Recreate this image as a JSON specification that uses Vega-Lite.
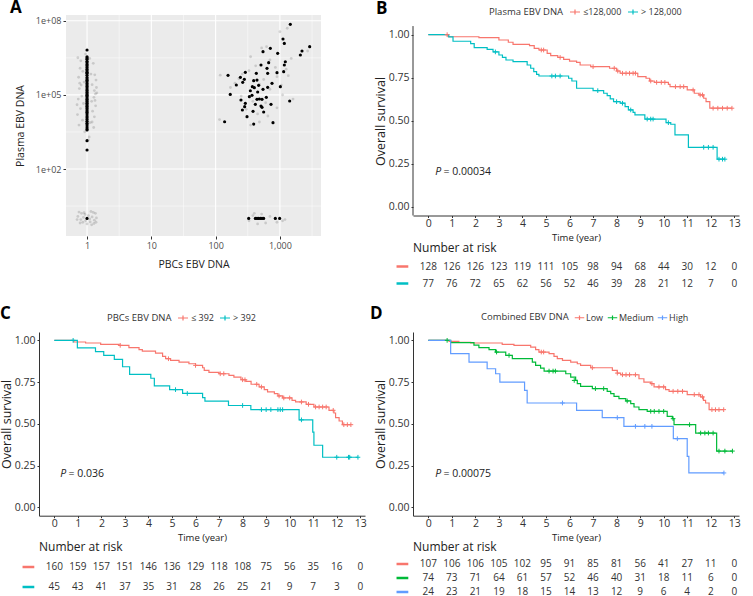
{
  "$schema": "https://vega.github.io/schema/vega-lite/v6.json",
  "background": "white",
  "padding": {"left": 0, "top": -2, "right": 0, "bottom": 0},
  "config": {
    "view": {"stroke": null},
    "font": "Open Sans",
    "axis": {"labelFontSize": 10.5, "labelColor": "#333", "titleColor": "#222", "titleFontWeight": "normal", "domainColor": "#333", "tickColor": "#333", "grid": false, "tickSize": 3, "labelPadding": 2, "labelOverlap": false},
    "axisX": {"labelOverlap": false},
    "axisQuantitative": {"labelOverlap": false},
    "legend": {"labelFontSize": 9, "titleFontSize": 9.5, "titleFontWeight": "normal", "labelColor": "#333", "titleColor": "#333"},
    "title": {"fontSize": 17, "fontWeight": "bold", "anchor": "start", "frame": "group", "color": "#000"}
  },
  "data": {"values": []},
  "datasets": {
    "scatter": [
      {"pbc": 1, "plasma": 6600000, "k": "o"}, {"pbc": 1, "plasma": 3500000, "k": "o"}, {"pbc": 1, "plasma": 3100000, "k": "o"},
      {"pbc": 1, "plasma": 2800000, "k": "o"}, {"pbc": 1, "plasma": 2300000, "k": "o"}, {"pbc": 1, "plasma": 2000000, "k": "o"},
      {"pbc": 1, "plasma": 1700000, "k": "o"}, {"pbc": 1, "plasma": 1500000, "k": "o"}, {"pbc": 1, "plasma": 1300000, "k": "o"},
      {"pbc": 1, "plasma": 1100000, "k": "o"}, {"pbc": 1, "plasma": 950000, "k": "o"}, {"pbc": 1, "plasma": 820000, "k": "o"},
      {"pbc": 1, "plasma": 760000, "k": "o"}, {"pbc": 1, "plasma": 630000, "k": "o"}, {"pbc": 1, "plasma": 510000, "k": "o"},
      {"pbc": 1, "plasma": 440000, "k": "o"}, {"pbc": 1, "plasma": 390000, "k": "o"}, {"pbc": 1, "plasma": 340000, "k": "o"},
      {"pbc": 1, "plasma": 290000, "k": "o"}, {"pbc": 1, "plasma": 250000, "k": "o"}, {"pbc": 1, "plasma": 220000, "k": "o"},
      {"pbc": 1, "plasma": 190000, "k": "o"}, {"pbc": 1, "plasma": 160000, "k": "o"}, {"pbc": 1, "plasma": 145000, "k": "o"},
      {"pbc": 1, "plasma": 125000, "k": "o"}, {"pbc": 1, "plasma": 110000, "k": "o"}, {"pbc": 1, "plasma": 98000, "k": "o"},
      {"pbc": 1, "plasma": 87000, "k": "o"}, {"pbc": 1, "plasma": 75000, "k": "o"}, {"pbc": 1, "plasma": 66000, "k": "o"},
      {"pbc": 1, "plasma": 58000, "k": "o"}, {"pbc": 1, "plasma": 52000, "k": "o"}, {"pbc": 1, "plasma": 46000, "k": "o"},
      {"pbc": 1, "plasma": 40000, "k": "o"}, {"pbc": 1, "plasma": 35000, "k": "o"}, {"pbc": 1, "plasma": 30000, "k": "o"},
      {"pbc": 1, "plasma": 27000, "k": "o"}, {"pbc": 1, "plasma": 23000, "k": "o"}, {"pbc": 1, "plasma": 20000, "k": "o"},
      {"pbc": 1, "plasma": 17000, "k": "o"}, {"pbc": 1, "plasma": 14000, "k": "o"}, {"pbc": 1, "plasma": 12000, "k": "o"},
      {"pbc": 1, "plasma": 10000, "k": "o"}, {"pbc": 1, "plasma": 8600, "k": "o"}, {"pbc": 1, "plasma": 7200, "k": "o"},
      {"pbc": 1, "plasma": 6100, "k": "o"}, {"pbc": 1, "plasma": 5000, "k": "o"}, {"pbc": 1, "plasma": 4200, "k": "o"},
      {"pbc": 1, "plasma": 3800, "k": "o"}, {"pbc": 1, "plasma": 1400, "k": "o"}, {"pbc": 1, "plasma": 590, "k": "o"},
      {"pbc": 1, "plasma": 1, "k": "o"},
      {"pbc": 1452, "plasma": 72000000, "k": "o"}, {"pbc": 1117, "plasma": 18300000, "k": "o"}, {"pbc": 1172, "plasma": 12200000, "k": "o"},
      {"pbc": 2904, "plasma": 8970000, "k": "o"}, {"pbc": 2207, "plasma": 5980000, "k": "o"}, {"pbc": 2080, "plasma": 4120000, "k": "o"},
      {"pbc": 710, "plasma": 7670000, "k": "o"}, {"pbc": 546, "plasma": 5620000, "k": "o"}, {"pbc": 923, "plasma": 4820000, "k": "o"},
      {"pbc": 1214, "plasma": 2210000, "k": "o"}, {"pbc": 1172, "plasma": 1630000, "k": "o"}, {"pbc": 669, "plasma": 2020000, "k": "o"},
      {"pbc": 508, "plasma": 1630000, "k": "o"}, {"pbc": 630, "plasma": 1190000, "k": "o"}, {"pbc": 290, "plasma": 820000, "k": "o"},
      {"pbc": 156, "plasma": 620000, "k": "o"}, {"pbc": 243, "plasma": 514000, "k": "o"}, {"pbc": 280, "plasma": 427000, "k": "o"},
      {"pbc": 264, "plasma": 323000, "k": "o"}, {"pbc": 210, "plasma": 252000, "k": "o"}, {"pbc": 430, "plasma": 746000, "k": "o"},
      {"pbc": 391, "plasma": 377000, "k": "o"}, {"pbc": 440, "plasma": 400000, "k": "o"}, {"pbc": 645, "plasma": 746000, "k": "o"},
      {"pbc": 901, "plasma": 794000, "k": "o"}, {"pbc": 1145, "plasma": 873000, "k": "o"}, {"pbc": 754, "plasma": 294000, "k": "o"},
      {"pbc": 1016, "plasma": 215000, "k": "o"}, {"pbc": 373, "plasma": 215000, "k": "o"}, {"pbc": 400, "plasma": 196000, "k": "o"},
      {"pbc": 467, "plasma": 244000, "k": "o"}, {"pbc": 546, "plasma": 168000, "k": "o"}, {"pbc": 451, "plasma": 131000, "k": "o"},
      {"pbc": 335, "plasma": 85000, "k": "o"}, {"pbc": 368, "plasma": 96000, "k": "o"}, {"pbc": 615, "plasma": 79700, "k": "o"},
      {"pbc": 479, "plasma": 68200, "k": "o"}, {"pbc": 248, "plasma": 62200, "k": "o"}, {"pbc": 440, "plasma": 66000, "k": "o"},
      {"pbc": 527, "plasma": 66000, "k": "o"}, {"pbc": 169, "plasma": 105000, "k": "o"}, {"pbc": 1419, "plasma": 56600, "k": "o"},
      {"pbc": 290, "plasma": 45600, "k": "o"}, {"pbc": 415, "plasma": 41500, "k": "o"}, {"pbc": 727, "plasma": 41500, "k": "o"},
      {"pbc": 283, "plasma": 33400, "k": "o"}, {"pbc": 261, "plasma": 24500, "k": "o"}, {"pbc": 508, "plasma": 35600, "k": "o"},
      {"pbc": 527, "plasma": 31400, "k": "o"}, {"pbc": 382, "plasma": 21600, "k": "o"}, {"pbc": 559, "plasma": 20300, "k": "o"},
      {"pbc": 308, "plasma": 13200, "k": "o"}, {"pbc": 138, "plasma": 8200, "k": "o"}, {"pbc": 391, "plasma": 6600, "k": "o"},
      {"pbc": 781, "plasma": 7500, "k": "o"}, {"pbc": 347, "plasma": 148000, "k": "o"}, {"pbc": 645, "plasma": 202000, "k": "o"},
      {"pbc": 327, "plasma": 1, "k": "o"}, {"pbc": 415, "plasma": 1, "k": "o"}, {"pbc": 440, "plasma": 1, "k": "o"},
      {"pbc": 467, "plasma": 1, "k": "o"}, {"pbc": 497, "plasma": 1, "k": "o"}, {"pbc": 527, "plasma": 1, "k": "o"},
      {"pbc": 559, "plasma": 1, "k": "o"}, {"pbc": 849, "plasma": 1, "k": "o"}, {"pbc": 991, "plasma": 1, "k": "o"},
      {"pbc": 0.72, "plasma": 3200000, "k": "j"}, {"pbc": 0.8, "plasma": 2400000, "k": "j"}, {"pbc": 1.25, "plasma": 1900000, "k": "j"},
      {"pbc": 1.32, "plasma": 650000, "k": "j"}, {"pbc": 0.78, "plasma": 1200000, "k": "j"}, {"pbc": 0.86, "plasma": 900000, "k": "j"},
      {"pbc": 1.15, "plasma": 700000, "k": "j"}, {"pbc": 0.74, "plasma": 520000, "k": "j"}, {"pbc": 1.38, "plasma": 400000, "k": "j"},
      {"pbc": 0.9, "plasma": 330000, "k": "j"}, {"pbc": 1.2, "plasma": 260000, "k": "j"}, {"pbc": 0.76, "plasma": 180000, "k": "j"},
      {"pbc": 1.3, "plasma": 150000, "k": "j"}, {"pbc": 1.42, "plasma": 120000, "k": "j"}, {"pbc": 1.35, "plasma": 110000, "k": "j"},
      {"pbc": 0.83, "plasma": 90000, "k": "j"}, {"pbc": 1.28, "plasma": 80000, "k": "j"}, {"pbc": 0.73, "plasma": 68000, "k": "j"},
      {"pbc": 1.18, "plasma": 55000, "k": "j"}, {"pbc": 0.88, "plasma": 45000, "k": "j"}, {"pbc": 1.36, "plasma": 36000, "k": "j"},
      {"pbc": 0.79, "plasma": 28000, "k": "j"}, {"pbc": 1.22, "plasma": 22000, "k": "j"}, {"pbc": 0.71, "plasma": 16000, "k": "j"},
      {"pbc": 1.3, "plasma": 13000, "k": "j"}, {"pbc": 0.85, "plasma": 9500, "k": "j"}, {"pbc": 1.12, "plasma": 7500, "k": "j"},
      {"pbc": 0.75, "plasma": 6000, "k": "j"}, {"pbc": 1.27, "plasma": 4800, "k": "j"}, {"pbc": 0.92, "plasma": 3200, "k": "j"},
      {"pbc": 1.08, "plasma": 2000, "k": "j"}, {"pbc": 1.2, "plasma": 8000, "k": "j"}, {"pbc": 0.7, "plasma": 40000, "k": "j"},
      {"pbc": 1.4, "plasma": 200000, "k": "j"}, {"pbc": 0.81, "plasma": 250000, "k": "j"}, {"pbc": 1.1, "plasma": 3000000, "k": "j"},
      {"pbc": 0.95, "plasma": 4500000, "k": "j"}, {"pbc": 1.05, "plasma": 1500, "k": "j"}, {"pbc": 0.77, "plasma": 300000, "k": "j"},
      {"pbc": 1.33, "plasma": 60000, "k": "j"},
      {"pbc": 0.75, "plasma": 1.8, "k": "j"}, {"pbc": 0.82, "plasma": 1.6, "k": "j"}, {"pbc": 0.9, "plasma": 1.7, "k": "j"},
      {"pbc": 1.15, "plasma": 1.9, "k": "j"}, {"pbc": 1.25, "plasma": 1.75, "k": "j"}, {"pbc": 1.35, "plasma": 1.6, "k": "j"},
      {"pbc": 0.72, "plasma": 1.2, "k": "j"}, {"pbc": 0.8, "plasma": 0.9, "k": "j"}, {"pbc": 0.88, "plasma": 1.1, "k": "j"},
      {"pbc": 0.95, "plasma": 0.8, "k": "j"}, {"pbc": 1.05, "plasma": 1.3, "k": "j"}, {"pbc": 1.1, "plasma": 0.95, "k": "j"},
      {"pbc": 1.2, "plasma": 1.15, "k": "j"}, {"pbc": 1.3, "plasma": 0.85, "k": "j"}, {"pbc": 1.4, "plasma": 1.05, "k": "j"},
      {"pbc": 0.78, "plasma": 0.65, "k": "j"}, {"pbc": 0.86, "plasma": 0.7, "k": "j"}, {"pbc": 1.0, "plasma": 0.6, "k": "j"},
      {"pbc": 1.12, "plasma": 0.72, "k": "j"}, {"pbc": 1.28, "plasma": 0.62, "k": "j"}, {"pbc": 1.38, "plasma": 0.7, "k": "j"},
      {"pbc": 0.93, "plasma": 1.45, "k": "j"}, {"pbc": 1.18, "plasma": 0.55, "k": "j"}, {"pbc": 0.7, "plasma": 0.9, "k": "j"},
      {"pbc": 118, "plasma": 630000, "k": "j"}, {"pbc": 115, "plasma": 10000, "k": "j"}, {"pbc": 1000, "plasma": 36000000, "k": "j"},
      {"pbc": 1300, "plasma": 50000000, "k": "j"}, {"pbc": 620, "plasma": 9000000, "k": "j"}, {"pbc": 520, "plasma": 8000000, "k": "j"},
      {"pbc": 350, "plasma": 3500000, "k": "j"}, {"pbc": 700, "plasma": 2600000, "k": "j"}, {"pbc": 1500, "plasma": 3000000, "k": "j"},
      {"pbc": 2700, "plasma": 6000000, "k": "j"}, {"pbc": 1250, "plasma": 1100000, "k": "j"}, {"pbc": 420, "plasma": 1500000, "k": "j"},
      {"pbc": 260, "plasma": 700000, "k": "j"}, {"pbc": 330, "plasma": 950000, "k": "j"}, {"pbc": 900, "plasma": 550000, "k": "j"},
      {"pbc": 1350, "plasma": 600000, "k": "j"}, {"pbc": 560, "plasma": 420000, "k": "j"}, {"pbc": 200, "plasma": 300000, "k": "j"},
      {"pbc": 170, "plasma": 200000, "k": "j"}, {"pbc": 480, "plasma": 270000, "k": "j"}, {"pbc": 700, "plasma": 170000, "k": "j"},
      {"pbc": 1100, "plasma": 100000, "k": "j"}, {"pbc": 1600, "plasma": 68000, "k": "j"}, {"pbc": 250, "plasma": 90000, "k": "j"},
      {"pbc": 380, "plasma": 55000, "k": "j"}, {"pbc": 600, "plasma": 48000, "k": "j"}, {"pbc": 900, "plasma": 30000, "k": "j"},
      {"pbc": 300, "plasma": 26000, "k": "j"}, {"pbc": 450, "plasma": 17000, "k": "j"}, {"pbc": 650, "plasma": 14000, "k": "j"},
      {"pbc": 350, "plasma": 6000, "k": "j"}, {"pbc": 480, "plasma": 8000, "k": "j"}, {"pbc": 1050, "plasma": 250000, "k": "j"},
      {"pbc": 230, "plasma": 450000, "k": "j"}, {"pbc": 850, "plasma": 1300000, "k": "j"},
      {"pbc": 400, "plasma": 1.6, "k": "j"}, {"pbc": 520, "plasma": 1.5, "k": "j"}, {"pbc": 330, "plasma": 0.8, "k": "j"},
      {"pbc": 600, "plasma": 0.65, "k": "j"}, {"pbc": 900, "plasma": 0.7, "k": "j"}, {"pbc": 1200, "plasma": 0.9, "k": "j"},
      {"pbc": 700, "plasma": 1.2, "k": "j"}, {"pbc": 450, "plasma": 0.6, "k": "j"}, {"pbc": 1100, "plasma": 0.8, "k": "j"},
      {"pbc": 380, "plasma": 1.3, "k": "j"}
    ],
    "kmB": [
      {"g": "≤128,000", "t": 0, "s": 1}, {"g": "≤128,000", "t": 0.85, "s": 0.988}, {"g": "≤128,000", "t": 2.15, "s": 0.983},
      {"g": "≤128,000", "t": 3.0, "s": 0.969}, {"g": "≤128,000", "t": 3.4, "s": 0.956}, {"g": "≤128,000", "t": 3.6, "s": 0.944},
      {"g": "≤128,000", "t": 4.3, "s": 0.936}, {"g": "≤128,000", "t": 4.5, "s": 0.921}, {"g": "≤128,000", "t": 4.7, "s": 0.911},
      {"g": "≤128,000", "t": 5.05, "s": 0.892}, {"g": "≤128,000", "t": 5.2, "s": 0.878}, {"g": "≤128,000", "t": 5.5, "s": 0.868},
      {"g": "≤128,000", "t": 5.75, "s": 0.857}, {"g": "≤128,000", "t": 6.0, "s": 0.847}, {"g": "≤128,000", "t": 6.3, "s": 0.839},
      {"g": "≤128,000", "t": 6.45, "s": 0.824}, {"g": "≤128,000", "t": 6.9, "s": 0.814}, {"g": "≤128,000", "t": 7.7, "s": 0.805},
      {"g": "≤128,000", "t": 8.0, "s": 0.789}, {"g": "≤128,000", "t": 8.15, "s": 0.776}, {"g": "≤128,000", "t": 8.9, "s": 0.756},
      {"g": "≤128,000", "t": 9.25, "s": 0.747}, {"g": "≤128,000", "t": 9.4, "s": 0.731}, {"g": "≤128,000", "t": 9.6, "s": 0.723},
      {"g": "≤128,000", "t": 10.2, "s": 0.712}, {"g": "≤128,000", "t": 10.27, "s": 0.698}, {"g": "≤128,000", "t": 11.0, "s": 0.679},
      {"g": "≤128,000", "t": 11.3, "s": 0.66}, {"g": "≤128,000", "t": 11.5, "s": 0.65}, {"g": "≤128,000", "t": 11.7, "s": 0.631},
      {"g": "≤128,000", "t": 11.8, "s": 0.611}, {"g": "≤128,000", "t": 11.96, "s": 0.573}, {"g": "≤128,000", "t": 12.9, "s": 0.573},
      {"g": "> 128,000", "t": 0, "s": 1}, {"g": "> 128,000", "t": 0.87, "s": 0.987}, {"g": "> 128,000", "t": 1.05, "s": 0.962},
      {"g": "> 128,000", "t": 1.8, "s": 0.948}, {"g": "> 128,000", "t": 1.95, "s": 0.925}, {"g": "> 128,000", "t": 2.5, "s": 0.915},
      {"g": "> 128,000", "t": 2.75, "s": 0.9}, {"g": "> 128,000", "t": 3.0, "s": 0.882}, {"g": "> 128,000", "t": 3.15, "s": 0.868},
      {"g": "> 128,000", "t": 3.3, "s": 0.853}, {"g": "> 128,000", "t": 3.6, "s": 0.843}, {"g": "> 128,000", "t": 4.2, "s": 0.824},
      {"g": "> 128,000", "t": 4.35, "s": 0.805}, {"g": "> 128,000", "t": 4.48, "s": 0.785}, {"g": "> 128,000", "t": 4.6, "s": 0.77},
      {"g": "> 128,000", "t": 4.7, "s": 0.76}, {"g": "> 128,000", "t": 5.96, "s": 0.747}, {"g": "> 128,000", "t": 6.1, "s": 0.731},
      {"g": "> 128,000", "t": 6.3, "s": 0.689}, {"g": "> 128,000", "t": 7.0, "s": 0.675}, {"g": "> 128,000", "t": 7.45, "s": 0.66},
      {"g": "> 128,000", "t": 7.6, "s": 0.646}, {"g": "> 128,000", "t": 7.73, "s": 0.627}, {"g": "> 128,000", "t": 7.87, "s": 0.611},
      {"g": "> 128,000", "t": 8.15, "s": 0.602}, {"g": "> 128,000", "t": 8.36, "s": 0.582}, {"g": "> 128,000", "t": 8.5, "s": 0.563},
      {"g": "> 128,000", "t": 8.7, "s": 0.549}, {"g": "> 128,000", "t": 8.78, "s": 0.534}, {"g": "> 128,000", "t": 9.2, "s": 0.51},
      {"g": "> 128,000", "t": 10.1, "s": 0.489}, {"g": "> 128,000", "t": 10.3, "s": 0.48}, {"g": "> 128,000", "t": 10.48, "s": 0.418},
      {"g": "> 128,000", "t": 11.05, "s": 0.346}, {"g": "> 128,000", "t": 12.27, "s": 0.277}, {"g": "> 128,000", "t": 12.6, "s": 0.277}
    ],
    "cnB": [
      {"g": "≤128,000", "t": 0.8, "s": 1}, {"g": "≤128,000", "t": 4.8, "s": 0.911}, {"g": "≤128,000", "t": 4.9, "s": 0.911},
      {"g": "≤128,000", "t": 5.6, "s": 0.868}, {"g": "≤128,000", "t": 7.0, "s": 0.814}, {"g": "≤128,000", "t": 7.9, "s": 0.805},
      {"g": "≤128,000", "t": 8.05, "s": 0.789}, {"g": "≤128,000", "t": 8.25, "s": 0.776}, {"g": "≤128,000", "t": 8.4, "s": 0.776},
      {"g": "≤128,000", "t": 8.55, "s": 0.776}, {"g": "≤128,000", "t": 8.7, "s": 0.776}, {"g": "≤128,000", "t": 8.8, "s": 0.776},
      {"g": "≤128,000", "t": 9.45, "s": 0.731}, {"g": "≤128,000", "t": 9.7, "s": 0.723}, {"g": "≤128,000", "t": 9.9, "s": 0.723},
      {"g": "≤128,000", "t": 10.05, "s": 0.723}, {"g": "≤128,000", "t": 10.5, "s": 0.698}, {"g": "≤128,000", "t": 10.7, "s": 0.698},
      {"g": "≤128,000", "t": 10.85, "s": 0.698}, {"g": "≤128,000", "t": 11.25, "s": 0.679}, {"g": "≤128,000", "t": 11.55, "s": 0.65},
      {"g": "≤128,000", "t": 11.65, "s": 0.65}, {"g": "≤128,000", "t": 12.1, "s": 0.573}, {"g": "≤128,000", "t": 12.3, "s": 0.573},
      {"g": "≤128,000", "t": 12.5, "s": 0.573}, {"g": "≤128,000", "t": 12.7, "s": 0.573}, {"g": "≤128,000", "t": 12.9, "s": 0.573},
      {"g": "> 128,000", "t": 2.85, "s": 0.9}, {"g": "> 128,000", "t": 5.25, "s": 0.76}, {"g": "> 128,000", "t": 5.4, "s": 0.76},
      {"g": "> 128,000", "t": 5.6, "s": 0.76}, {"g": "> 128,000", "t": 7.2, "s": 0.675}, {"g": "> 128,000", "t": 8.0, "s": 0.611},
      {"g": "> 128,000", "t": 8.25, "s": 0.602}, {"g": "> 128,000", "t": 8.6, "s": 0.563}, {"g": "> 128,000", "t": 9.3, "s": 0.51},
      {"g": "> 128,000", "t": 9.45, "s": 0.51}, {"g": "> 128,000", "t": 9.55, "s": 0.51}, {"g": "> 128,000", "t": 10.2, "s": 0.489},
      {"g": "> 128,000", "t": 11.7, "s": 0.346}, {"g": "> 128,000", "t": 11.9, "s": 0.346}, {"g": "> 128,000", "t": 12.1, "s": 0.346},
      {"g": "> 128,000", "t": 12.35, "s": 0.277}, {"g": "> 128,000", "t": 12.5, "s": 0.277}, {"g": "> 128,000", "t": 12.6, "s": 0.277}
    ],
    "rkB": [
      {"g": "≤128,000", "t": 0, "n": 128}, {"g": "≤128,000", "t": 1, "n": 126}, {"g": "≤128,000", "t": 2, "n": 126},
      {"g": "≤128,000", "t": 3, "n": 123}, {"g": "≤128,000", "t": 4, "n": 119}, {"g": "≤128,000", "t": 5, "n": 111},
      {"g": "≤128,000", "t": 6, "n": 105}, {"g": "≤128,000", "t": 7, "n": 98}, {"g": "≤128,000", "t": 8, "n": 94},
      {"g": "≤128,000", "t": 9, "n": 68}, {"g": "≤128,000", "t": 10, "n": 44}, {"g": "≤128,000", "t": 11, "n": 30},
      {"g": "≤128,000", "t": 12, "n": 12}, {"g": "≤128,000", "t": 13, "n": 0},
      {"g": "> 128,000", "t": 0, "n": 77}, {"g": "> 128,000", "t": 1, "n": 76}, {"g": "> 128,000", "t": 2, "n": 72},
      {"g": "> 128,000", "t": 3, "n": 65}, {"g": "> 128,000", "t": 4, "n": 62}, {"g": "> 128,000", "t": 5, "n": 56},
      {"g": "> 128,000", "t": 6, "n": 52}, {"g": "> 128,000", "t": 7, "n": 46}, {"g": "> 128,000", "t": 8, "n": 39},
      {"g": "> 128,000", "t": 9, "n": 28}, {"g": "> 128,000", "t": 10, "n": 21}, {"g": "> 128,000", "t": 11, "n": 12},
      {"g": "> 128,000", "t": 12, "n": 7}, {"g": "> 128,000", "t": 13, "n": 0}
    ],
    "kmC": [
      {"g": "≤ 392", "t": 0, "s": 1}, {"g": "≤ 392", "t": 0.83, "s": 0.99}, {"g": "≤ 392", "t": 1.33, "s": 0.984},
      {"g": "≤ 392", "t": 1.97, "s": 0.976}, {"g": "≤ 392", "t": 2.75, "s": 0.97}, {"g": "≤ 392", "t": 3.17, "s": 0.956},
      {"g": "≤ 392", "t": 3.6, "s": 0.944}, {"g": "≤ 392", "t": 3.74, "s": 0.936}, {"g": "≤ 392", "t": 4.3, "s": 0.924},
      {"g": "≤ 392", "t": 4.6, "s": 0.904}, {"g": "≤ 392", "t": 4.73, "s": 0.89}, {"g": "≤ 392", "t": 4.94, "s": 0.88},
      {"g": "≤ 392", "t": 5.3, "s": 0.87}, {"g": "≤ 392", "t": 5.72, "s": 0.86}, {"g": "≤ 392", "t": 6.0, "s": 0.85},
      {"g": "≤ 392", "t": 6.3, "s": 0.836}, {"g": "≤ 392", "t": 6.37, "s": 0.82}, {"g": "≤ 392", "t": 6.57, "s": 0.808},
      {"g": "≤ 392", "t": 7.0, "s": 0.8}, {"g": "≤ 392", "t": 7.42, "s": 0.79}, {"g": "≤ 392", "t": 7.63, "s": 0.78},
      {"g": "≤ 392", "t": 7.93, "s": 0.764}, {"g": "≤ 392", "t": 8.14, "s": 0.754}, {"g": "≤ 392", "t": 8.36, "s": 0.737},
      {"g": "≤ 392", "t": 8.7, "s": 0.721}, {"g": "≤ 392", "t": 8.92, "s": 0.705}, {"g": "≤ 392", "t": 9.06, "s": 0.691},
      {"g": "≤ 392", "t": 9.35, "s": 0.681}, {"g": "≤ 392", "t": 9.5, "s": 0.667}, {"g": "≤ 392", "t": 9.7, "s": 0.655},
      {"g": "≤ 392", "t": 10.1, "s": 0.641}, {"g": "≤ 392", "t": 10.25, "s": 0.631}, {"g": "≤ 392", "t": 10.7, "s": 0.617},
      {"g": "≤ 392", "t": 11.03, "s": 0.601}, {"g": "≤ 392", "t": 11.67, "s": 0.581}, {"g": "≤ 392", "t": 11.88, "s": 0.565},
      {"g": "≤ 392", "t": 11.95, "s": 0.537}, {"g": "≤ 392", "t": 12.1, "s": 0.517}, {"g": "≤ 392", "t": 12.24, "s": 0.495},
      {"g": "≤ 392", "t": 12.6, "s": 0.495},
      {"g": "> 392", "t": 0, "s": 1}, {"g": "> 392", "t": 0.98, "s": 0.955}, {"g": "> 392", "t": 1.75, "s": 0.932},
      {"g": "> 392", "t": 2.1, "s": 0.91}, {"g": "> 392", "t": 2.55, "s": 0.886}, {"g": "> 392", "t": 2.9, "s": 0.842},
      {"g": "> 392", "t": 3.2, "s": 0.796}, {"g": "> 392", "t": 4.1, "s": 0.773}, {"g": "> 392", "t": 4.25, "s": 0.727},
      {"g": "> 392", "t": 4.9, "s": 0.705}, {"g": "> 392", "t": 5.45, "s": 0.682}, {"g": "> 392", "t": 6.3, "s": 0.657},
      {"g": "> 392", "t": 6.4, "s": 0.636}, {"g": "> 392", "t": 7.4, "s": 0.61}, {"g": "> 392", "t": 8.35, "s": 0.585},
      {"g": "> 392", "t": 10.4, "s": 0.524}, {"g": "> 392", "t": 10.98, "s": 0.45}, {"g": "> 392", "t": 11.03, "s": 0.372},
      {"g": "> 392", "t": 11.4, "s": 0.3}, {"g": "> 392", "t": 12.9, "s": 0.3}
    ],
    "cnC": [
      {"g": "≤ 392", "t": 2.8, "s": 0.97}, {"g": "≤ 392", "t": 4.85, "s": 0.89}, {"g": "≤ 392", "t": 6.0, "s": 0.85},
      {"g": "≤ 392", "t": 7.05, "s": 0.8}, {"g": "≤ 392", "t": 7.2, "s": 0.8}, {"g": "≤ 392", "t": 8.0, "s": 0.764},
      {"g": "≤ 392", "t": 8.1, "s": 0.764}, {"g": "≤ 392", "t": 8.6, "s": 0.737}, {"g": "≤ 392", "t": 8.8, "s": 0.721},
      {"g": "≤ 392", "t": 9.55, "s": 0.667}, {"g": "≤ 392", "t": 9.75, "s": 0.655}, {"g": "≤ 392", "t": 10.0, "s": 0.655},
      {"g": "≤ 392", "t": 10.5, "s": 0.631}, {"g": "≤ 392", "t": 10.8, "s": 0.617}, {"g": "≤ 392", "t": 11.1, "s": 0.601},
      {"g": "≤ 392", "t": 11.25, "s": 0.601}, {"g": "≤ 392", "t": 11.4, "s": 0.601}, {"g": "≤ 392", "t": 11.55, "s": 0.601},
      {"g": "≤ 392", "t": 11.85, "s": 0.581}, {"g": "≤ 392", "t": 12.3, "s": 0.495}, {"g": "≤ 392", "t": 12.45, "s": 0.495},
      {"g": "≤ 392", "t": 12.6, "s": 0.495},
      {"g": "> 392", "t": 0.8, "s": 1}, {"g": "> 392", "t": 5.15, "s": 0.705}, {"g": "> 392", "t": 5.65, "s": 0.682},
      {"g": "> 392", "t": 8.0, "s": 0.61}, {"g": "> 392", "t": 8.8, "s": 0.585}, {"g": "> 392", "t": 9.0, "s": 0.585},
      {"g": "> 392", "t": 9.2, "s": 0.585}, {"g": "> 392", "t": 9.5, "s": 0.585}, {"g": "> 392", "t": 9.6, "s": 0.585},
      {"g": "> 392", "t": 9.7, "s": 0.585}, {"g": "> 392", "t": 10.5, "s": 0.524}, {"g": "> 392", "t": 12.0, "s": 0.3},
      {"g": "> 392", "t": 12.5, "s": 0.3}, {"g": "> 392", "t": 12.55, "s": 0.3}, {"g": "> 392", "t": 12.9, "s": 0.3}
    ],
    "rkC": [
      {"g": "≤ 392", "t": 0, "n": 160}, {"g": "≤ 392", "t": 1, "n": 159}, {"g": "≤ 392", "t": 2, "n": 157},
      {"g": "≤ 392", "t": 3, "n": 151}, {"g": "≤ 392", "t": 4, "n": 146}, {"g": "≤ 392", "t": 5, "n": 136},
      {"g": "≤ 392", "t": 6, "n": 129}, {"g": "≤ 392", "t": 7, "n": 118}, {"g": "≤ 392", "t": 8, "n": 108},
      {"g": "≤ 392", "t": 9, "n": 75}, {"g": "≤ 392", "t": 10, "n": 56}, {"g": "≤ 392", "t": 11, "n": 35},
      {"g": "≤ 392", "t": 12, "n": 16}, {"g": "≤ 392", "t": 13, "n": 0},
      {"g": "> 392", "t": 0, "n": 45}, {"g": "> 392", "t": 1, "n": 43}, {"g": "> 392", "t": 2, "n": 41},
      {"g": "> 392", "t": 3, "n": 37}, {"g": "> 392", "t": 4, "n": 35}, {"g": "> 392", "t": 5, "n": 31},
      {"g": "> 392", "t": 6, "n": 28}, {"g": "> 392", "t": 7, "n": 26}, {"g": "> 392", "t": 8, "n": 25},
      {"g": "> 392", "t": 9, "n": 21}, {"g": "> 392", "t": 10, "n": 9}, {"g": "> 392", "t": 11, "n": 7},
      {"g": "> 392", "t": 12, "n": 3}, {"g": "> 392", "t": 13, "n": 0}
    ],
    "kmD": [
      {"g": "Low", "t": 0, "s": 1}, {"g": "Low", "t": 0.88, "s": 0.994}, {"g": "Low", "t": 1.3, "s": 0.988},
      {"g": "Low", "t": 1.8, "s": 0.984}, {"g": "Low", "t": 3.14, "s": 0.976}, {"g": "Low", "t": 3.64, "s": 0.97},
      {"g": "Low", "t": 4.35, "s": 0.96}, {"g": "Low", "t": 4.56, "s": 0.944}, {"g": "Low", "t": 4.7, "s": 0.93},
      {"g": "Low", "t": 5.13, "s": 0.92}, {"g": "Low", "t": 5.34, "s": 0.904}, {"g": "Low", "t": 5.48, "s": 0.89},
      {"g": "Low", "t": 5.7, "s": 0.88}, {"g": "Low", "t": 6.05, "s": 0.87}, {"g": "Low", "t": 6.33, "s": 0.86},
      {"g": "Low", "t": 6.47, "s": 0.85}, {"g": "Low", "t": 6.9, "s": 0.836}, {"g": "Low", "t": 7.82, "s": 0.82},
      {"g": "Low", "t": 8.03, "s": 0.804}, {"g": "Low", "t": 8.17, "s": 0.794}, {"g": "Low", "t": 8.95, "s": 0.77},
      {"g": "Low", "t": 9.16, "s": 0.75}, {"g": "Low", "t": 9.45, "s": 0.741}, {"g": "Low", "t": 9.59, "s": 0.721},
      {"g": "Low", "t": 10.08, "s": 0.705}, {"g": "Low", "t": 10.23, "s": 0.695}, {"g": "Low", "t": 11.0, "s": 0.675},
      {"g": "Low", "t": 11.57, "s": 0.661}, {"g": "Low", "t": 11.69, "s": 0.641}, {"g": "Low", "t": 11.78, "s": 0.625},
      {"g": "Low", "t": 11.93, "s": 0.585}, {"g": "Low", "t": 12.56, "s": 0.585},
      {"g": "Medium", "t": 0, "s": 1}, {"g": "Medium", "t": 0.95, "s": 0.986}, {"g": "Medium", "t": 1.94, "s": 0.972},
      {"g": "Medium", "t": 2.15, "s": 0.956}, {"g": "Medium", "t": 2.58, "s": 0.944}, {"g": "Medium", "t": 2.86, "s": 0.93},
      {"g": "Medium", "t": 3.29, "s": 0.91}, {"g": "Medium", "t": 3.57, "s": 0.89}, {"g": "Medium", "t": 4.42, "s": 0.87},
      {"g": "Medium", "t": 4.56, "s": 0.85}, {"g": "Medium", "t": 4.77, "s": 0.834}, {"g": "Medium", "t": 4.92, "s": 0.816},
      {"g": "Medium", "t": 5.84, "s": 0.8}, {"g": "Medium", "t": 6.05, "s": 0.78}, {"g": "Medium", "t": 6.26, "s": 0.76},
      {"g": "Medium", "t": 6.33, "s": 0.741}, {"g": "Medium", "t": 6.47, "s": 0.725}, {"g": "Medium", "t": 6.97, "s": 0.711},
      {"g": "Medium", "t": 7.6, "s": 0.695}, {"g": "Medium", "t": 7.75, "s": 0.681}, {"g": "Medium", "t": 7.89, "s": 0.665},
      {"g": "Medium", "t": 8.1, "s": 0.651}, {"g": "Medium", "t": 8.39, "s": 0.637}, {"g": "Medium", "t": 8.6, "s": 0.621},
      {"g": "Medium", "t": 8.74, "s": 0.601}, {"g": "Medium", "t": 8.95, "s": 0.585}, {"g": "Medium", "t": 9.3, "s": 0.575},
      {"g": "Medium", "t": 10.15, "s": 0.545}, {"g": "Medium", "t": 10.37, "s": 0.531}, {"g": "Medium", "t": 10.44, "s": 0.495},
      {"g": "Medium", "t": 11.36, "s": 0.445}, {"g": "Medium", "t": 12.25, "s": 0.337}, {"g": "Medium", "t": 12.92, "s": 0.337},
      {"g": "High", "t": 0, "s": 1}, {"g": "High", "t": 0.95, "s": 0.92}, {"g": "High", "t": 1.73, "s": 0.87},
      {"g": "High", "t": 2.5, "s": 0.83}, {"g": "High", "t": 2.86, "s": 0.8}, {"g": "High", "t": 3.04, "s": 0.75},
      {"g": "High", "t": 4.09, "s": 0.701}, {"g": "High", "t": 4.2, "s": 0.625}, {"g": "High", "t": 6.3, "s": 0.581},
      {"g": "High", "t": 7.39, "s": 0.537}, {"g": "High", "t": 8.31, "s": 0.485}, {"g": "High", "t": 10.41, "s": 0.411},
      {"g": "High", "t": 11.0, "s": 0.305}, {"g": "High", "t": 11.07, "s": 0.206}, {"g": "High", "t": 12.56, "s": 0.206}
    ],
    "cnD": [
      {"g": "Low", "t": 4.8, "s": 0.93}, {"g": "Low", "t": 4.9, "s": 0.93}, {"g": "Low", "t": 6.97, "s": 0.836},
      {"g": "Low", "t": 8.03, "s": 0.804}, {"g": "Low", "t": 8.25, "s": 0.794}, {"g": "Low", "t": 8.4, "s": 0.794},
      {"g": "Low", "t": 8.55, "s": 0.794}, {"g": "Low", "t": 8.8, "s": 0.794}, {"g": "Low", "t": 9.5, "s": 0.741},
      {"g": "Low", "t": 9.8, "s": 0.721}, {"g": "Low", "t": 10.0, "s": 0.721}, {"g": "Low", "t": 10.4, "s": 0.695},
      {"g": "Low", "t": 10.6, "s": 0.695}, {"g": "Low", "t": 10.8, "s": 0.695}, {"g": "Low", "t": 11.3, "s": 0.675},
      {"g": "Low", "t": 11.5, "s": 0.675}, {"g": "Low", "t": 11.65, "s": 0.661}, {"g": "Low", "t": 12.05, "s": 0.585},
      {"g": "Low", "t": 12.2, "s": 0.585}, {"g": "Low", "t": 12.35, "s": 0.585}, {"g": "Low", "t": 12.55, "s": 0.585},
      {"g": "Medium", "t": 0.8, "s": 1}, {"g": "Medium", "t": 2.9, "s": 0.93}, {"g": "Medium", "t": 3.43, "s": 0.91},
      {"g": "Medium", "t": 5.13, "s": 0.816}, {"g": "Medium", "t": 5.3, "s": 0.816}, {"g": "Medium", "t": 5.4, "s": 0.816},
      {"g": "Medium", "t": 6.2, "s": 0.76}, {"g": "Medium", "t": 7.1, "s": 0.711}, {"g": "Medium", "t": 7.45, "s": 0.711},
      {"g": "Medium", "t": 8.45, "s": 0.637}, {"g": "Medium", "t": 9.45, "s": 0.575}, {"g": "Medium", "t": 9.6, "s": 0.575},
      {"g": "Medium", "t": 9.8, "s": 0.575}, {"g": "Medium", "t": 10.0, "s": 0.575}, {"g": "Medium", "t": 10.4, "s": 0.531},
      {"g": "Medium", "t": 11.1, "s": 0.495}, {"g": "Medium", "t": 11.57, "s": 0.445}, {"g": "Medium", "t": 11.75, "s": 0.445},
      {"g": "Medium", "t": 11.9, "s": 0.445}, {"g": "Medium", "t": 12.1, "s": 0.445}, {"g": "Medium", "t": 12.35, "s": 0.337},
      {"g": "Medium", "t": 12.6, "s": 0.337}, {"g": "Medium", "t": 12.92, "s": 0.337},
      {"g": "High", "t": 5.7, "s": 0.625}, {"g": "High", "t": 8.03, "s": 0.537}, {"g": "High", "t": 8.8, "s": 0.485},
      {"g": "High", "t": 9.2, "s": 0.485}, {"g": "High", "t": 9.5, "s": 0.485}, {"g": "High", "t": 10.58, "s": 0.411},
      {"g": "High", "t": 12.56, "s": 0.206}
    ],
    "rkD": [
      {"g": "Low", "t": 0, "n": 107}, {"g": "Low", "t": 1, "n": 106}, {"g": "Low", "t": 2, "n": 106},
      {"g": "Low", "t": 3, "n": 105}, {"g": "Low", "t": 4, "n": 102}, {"g": "Low", "t": 5, "n": 95},
      {"g": "Low", "t": 6, "n": 91}, {"g": "Low", "t": 7, "n": 85}, {"g": "Low", "t": 8, "n": 81},
      {"g": "Low", "t": 9, "n": 56}, {"g": "Low", "t": 10, "n": 41}, {"g": "Low", "t": 11, "n": 27},
      {"g": "Low", "t": 12, "n": 11}, {"g": "Low", "t": 13, "n": 0},
      {"g": "Medium", "t": 0, "n": 74}, {"g": "Medium", "t": 1, "n": 73}, {"g": "Medium", "t": 2, "n": 71},
      {"g": "Medium", "t": 3, "n": 64}, {"g": "Medium", "t": 4, "n": 61}, {"g": "Medium", "t": 5, "n": 57},
      {"g": "Medium", "t": 6, "n": 52}, {"g": "Medium", "t": 7, "n": 46}, {"g": "Medium", "t": 8, "n": 40},
      {"g": "Medium", "t": 9, "n": 31}, {"g": "Medium", "t": 10, "n": 18}, {"g": "Medium", "t": 11, "n": 11},
      {"g": "Medium", "t": 12, "n": 6}, {"g": "Medium", "t": 13, "n": 0},
      {"g": "High", "t": 0, "n": 24}, {"g": "High", "t": 1, "n": 23}, {"g": "High", "t": 2, "n": 21},
      {"g": "High", "t": 3, "n": 19}, {"g": "High", "t": 4, "n": 18}, {"g": "High", "t": 5, "n": 15},
      {"g": "High", "t": 6, "n": 14}, {"g": "High", "t": 7, "n": 13}, {"g": "High", "t": 8, "n": 12},
      {"g": "High", "t": 9, "n": 9}, {"g": "High", "t": 10, "n": 6}, {"g": "High", "t": 11, "n": 4},
      {"g": "High", "t": 12, "n": 2}, {"g": "High", "t": 13, "n": 0}
    ]
  },
  "columns": 3,
  "align": "none",
  "bounds": "flush",
  "spacing": 0,
  "resolve": {"scale": {"color": "independent", "x": "independent", "y": "independent"}, "legend": {"color": "independent"}},
  "concat": [
    {
      "width": 282, "height": 221,
      "title": {"text": "A", "dx": -29, "offset": -2.5},
      "layer": [
        {
          "data": {"values": [{"bg": 1}]},
          "mark": {"type": "rect", "color": "#EBEBEB"},
          "encoding": {
            "x": {"datum": 0.471, "type": "quantitative",
                  "scale": {"type": "log", "domain": [0.179, 4357], "nice": false},
                  "axis": {"values": [1, 10, 100, 1000], "format": ",", "grid": false, "domain": false, "tickColor": "#333", "tickSize": 3, "labelColor": "#4D4D4D", "labelFontSize": 9, "title": "PBCs EBV DNA", "titleFontSize": 10.5, "titlePadding": 9, "titleX": 154.5}},
            "x2": {"datum": 4357},
            "y": {"datum": 0.194, "type": "quantitative",
                  "scale": {"type": "log", "domain": [0.194, 172000000], "nice": false},
                  "axis": {"values": [100, 100000, 100000000], "labelExpr": "'1e+0' + round(log(datum.value) / LN10)", "offset": -27, "grid": false, "domain": false, "tickColor": "#333", "tickSize": 3, "labelColor": "#4D4D4D", "labelFontSize": 9, "title": "Plasma EBV DNA", "titleFontSize": 10.5, "titlePadding": 10}},
            "y2": {"datum": 172000000}
          }
        },
        {
          "data": {"values": [{"pbc": 3.162}, {"pbc": 31.62}, {"pbc": 316.2}, {"pbc": 3162}]},
          "mark": {"type": "rule", "color": "white", "strokeWidth": 0.5},
          "encoding": {"x": {"field": "pbc", "type": "quantitative"}}
        },
        {
          "data": {"values": [{"plasma": 3.162}, {"plasma": 3162}, {"plasma": 3162278}]},
          "mark": {"type": "rule", "color": "white", "strokeWidth": 0.5},
          "encoding": {"y": {"field": "plasma", "type": "quantitative"}, "x": {"datum": 0.471, "type": "quantitative"}, "x2": {"datum": 4357}}
        },
        {
          "data": {"values": [{"pbc": 1}, {"pbc": 10}, {"pbc": 100}, {"pbc": 1000}]},
          "mark": {"type": "rule", "color": "white", "strokeWidth": 1.1},
          "encoding": {"x": {"field": "pbc", "type": "quantitative"}}
        },
        {
          "data": {"values": [{"plasma": 100}, {"plasma": 100000}, {"plasma": 100000000}]},
          "mark": {"type": "rule", "color": "white", "strokeWidth": 1.1},
          "encoding": {"y": {"field": "plasma", "type": "quantitative"}, "x": {"datum": 0.471, "type": "quantitative"}, "x2": {"datum": 4357}}
        },
        {
          "data": {"name": "scatter"},
          "transform": [{"filter": "datum.k == 'j'"}],
          "mark": {"type": "circle", "color": "#000", "opacity": 0.14, "size": 8},
          "encoding": {
            "x": {"field": "pbc", "type": "quantitative"},
            "y": {"field": "plasma", "type": "quantitative"}
          }
        },
        {
          "data": {"name": "scatter"},
          "transform": [{"filter": "datum.k == 'o'"}],
          "mark": {"type": "circle", "color": "#000", "opacity": 1, "size": 10},
          "encoding": {
            "x": {"field": "pbc", "type": "quantitative"},
            "y": {"field": "plasma", "type": "quantitative"}
          }
        }
      ]
    },
    {"width": 48, "height": 1, "title": {"text": "B", "dx": 11, "offset": -2.5}, "mark": {"type": "point", "opacity": 0}},
    {
      "width": 326, "height": 200.5,
      "layer": [
        {
          "data": {"name": "kmB"},
          "mark": {"type": "line", "interpolate": "step-after", "strokeWidth": 1.2},
          "encoding": {
            "x": {"field": "t", "type": "quantitative", "scale": {"domain": [-0.65, 13.2], "nice": false, "zero": false},
                  "axis": {"values": [0, 1, 2, 3, 4, 5, 6, 7, 8, 9, 10, 11, 12, 13], "tickCount": 14, "labelOverlap": false, "labelSeparation": 0, "labelFlush": false, "tickSize": 2, "labelPadding": 1, "title": "Time (year)", "titleFontSize": 9.5, "titlePadding": 3}},
            "y": {"field": "s", "type": "quantitative", "scale": {"domain": [-0.05, 1.1143], "nice": false, "zero": false},
                  "axis": {"values": [0, 0.25, 0.5, 0.75, 1], "format": ".2f", "domain": false, "title": "Overall survival", "titleFontSize": 12.5, "titlePadding": 1, "tickSize": 2, "titleY": 106}},
            "color": {"field": "g", "type": "nominal",
                      "scale": {"domain": ["≤128,000", "> 128,000"], "range": ["#F8766D", "#00BFC4"]},
                      "legend": {"title": "Plasma EBV DNA", "orient": "none", "legendX": 76, "legendY": -9, "direction": "horizontal", "titleOrient": "left", "symbolType": "M-1,0L1,0M0,-0.5L0,0.5", "symbolSize": 100, "symbolStrokeWidth": 1.2, "columnPadding": 3, "labelOffset": 2}}
          }
        },
        {
          "data": {"values": [{"ax": 1}]},
          "mark": {"type": "rule", "color": "#333", "strokeWidth": 1},
          "encoding": {"x": {"datum": -0.65, "type": "quantitative"}, "y": {"datum": -0.05, "type": "quantitative"}, "y2": {"datum": 1.05}}
        },
        {
          "data": {"name": "cnB"},
          "mark": {"type": "point", "shape": "M-1,0L1,0M0,-1L0,1", "size": 22, "strokeWidth": 1, "filled": false, "opacity": 1},
          "encoding": {
            "x": {"field": "t", "type": "quantitative"},
            "y": {"field": "s", "type": "quantitative"},
            "color": {"field": "g", "type": "nominal"}
          }
        },
        {
          "data": {"values": [{"p": "P"}]},
          "mark": {"type": "text", "align": "left", "fontStyle": "italic", "fontSize": 10.5, "color": "#222"},
          "encoding": {"x": {"datum": 0.3, "type": "quantitative"}, "y": {"datum": 0.2, "type": "quantitative"}, "text": {"field": "p"}}
        },
        {
          "data": {"values": [{"p": "= 0.00034"}]},
          "mark": {"type": "text", "align": "left", "fontSize": 10.5, "color": "#222"},
          "encoding": {"x": {"datum": 0.65, "type": "quantitative"}, "y": {"datum": 0.2, "type": "quantitative"}, "text": {"field": "p"}}
        }
      ]
    },

    {"width": 326, "height": 1, "mark": {"type": "point", "opacity": 0}},
    {"width": 48, "height": 1, "mark": {"type": "point", "opacity": 0}},
    {"width": 326, "height": 22, "mark": {"type": "point", "opacity": 0}},

    {"width": 326, "height": 1, "mark": {"type": "point", "opacity": 0}},
    {"width": 48, "height": 1, "mark": {"type": "point", "opacity": 0}},
    {
      "width": 326, "height": 34,
      "data": {"name": "rkB"},
      "title": {"text": "Number at risk", "fontSize": 12, "fontWeight": "normal", "color": "#222", "offset": 3},
      "layer": [
        {
          "mark": {"type": "text", "fontSize": 10, "color": "#333"},
          "encoding": {
            "x": {"field": "t", "type": "quantitative", "scale": {"domain": [-0.65, 13.2], "nice": false, "zero": false}, "axis": null},
            "y": {"field": "g", "type": "nominal", "sort": ["≤128,000", "> 128,000"], "axis": null},
            "text": {"field": "n", "type": "quantitative"}
          }
        },
        {
          "transform": [{"filter": "datum.t == 0"}],
          "mark": {"type": "rule", "strokeWidth": 2.5, "clip": false},
          "encoding": {
            "x": {"datum": -1.35, "type": "quantitative"},
            "x2": {"datum": -0.85},
            "y": {"field": "g", "type": "nominal", "sort": ["≤128,000", "> 128,000"]},
            "color": {"field": "g", "type": "nominal", "scale": {"domain": ["≤128,000", "> 128,000"], "range": ["#F8766D", "#00BFC4"]}, "legend": null}
          }
        }
      ]
    },

    {"width": 326, "height": 39.6, "title": {"text": "C", "dx": -39, "offset": 0, "dy": 31}, "mark": {"type": "point", "opacity": 0}},
    {"width": 48, "height": 1, "title": {"text": "D", "dx": 5, "offset": 0, "dy": 31}, "mark": {"type": "point", "opacity": 0}},
    {"width": 326, "height": 1, "mark": {"type": "point", "opacity": 0}},

    {
      "width": 326, "height": 183.7,
      "layer": [
        {
          "data": {"name": "kmC"},
          "mark": {"type": "line", "interpolate": "step-after", "strokeWidth": 1.2},
          "encoding": {
            "x": {"field": "t", "type": "quantitative", "scale": {"domain": [-0.65, 13.2], "nice": false, "zero": false},
                  "axis": {"values": [0, 1, 2, 3, 4, 5, 6, 7, 8, 9, 10, 11, 12, 13], "tickCount": 14, "labelOverlap": false, "labelSeparation": 0, "labelFlush": false, "tickSize": 2, "labelPadding": 1, "title": "Time (year)", "titleFontSize": 9.5, "titlePadding": 3}},
            "y": {"field": "s", "type": "quantitative", "scale": {"domain": [-0.05, 1.05], "nice": false, "zero": false},
                  "axis": {"values": [0, 0.25, 0.5, 0.75, 1], "format": ".2f", "title": "Overall survival", "titleFontSize": 12.5, "titlePadding": 1, "tickSize": 2}},
            "color": {"field": "g", "type": "nominal",
                      "scale": {"domain": ["≤ 392", "> 392"], "range": ["#F8766D", "#00BFC4"]},
                      "legend": {"title": "PBCs EBV DNA", "orient": "none", "legendX": 68, "legendY": -20, "direction": "horizontal", "titleOrient": "left", "symbolType": "M-1,0L1,0M0,-0.5L0,0.5", "symbolSize": 100, "symbolStrokeWidth": 1.2, "columnPadding": 3, "labelOffset": 2}}
          }
        },
        {
          "data": {"name": "cnC"},
          "mark": {"type": "point", "shape": "M-1,0L1,0M0,-1L0,1", "size": 22, "strokeWidth": 1, "filled": false, "opacity": 1},
          "encoding": {
            "x": {"field": "t", "type": "quantitative"},
            "y": {"field": "s", "type": "quantitative"},
            "color": {"field": "g", "type": "nominal"}
          }
        },
        {
          "data": {"values": [{"p": "P"}]},
          "mark": {"type": "text", "align": "left", "fontStyle": "italic", "fontSize": 10.5, "color": "#222"},
          "encoding": {"x": {"datum": 0.25, "type": "quantitative"}, "y": {"datum": 0.2, "type": "quantitative"}, "text": {"field": "p"}}
        },
        {
          "data": {"values": [{"p": "= 0.036"}]},
          "mark": {"type": "text", "align": "left", "fontSize": 10.5, "color": "#222"},
          "encoding": {"x": {"datum": 0.6, "type": "quantitative"}, "y": {"datum": 0.2, "type": "quantitative"}, "text": {"field": "p"}}
        }
      ]
    },
    {"width": 48, "height": 1, "mark": {"type": "point", "opacity": 0}},
    {
      "width": 326, "height": 183.7,
      "layer": [
        {
          "data": {"name": "kmD"},
          "mark": {"type": "line", "interpolate": "step-after", "strokeWidth": 1.2},
          "encoding": {
            "x": {"field": "t", "type": "quantitative", "scale": {"domain": [-0.65, 13.2], "nice": false, "zero": false},
                  "axis": {"values": [0, 1, 2, 3, 4, 5, 6, 7, 8, 9, 10, 11, 12, 13], "tickCount": 14, "labelOverlap": false, "labelSeparation": 0, "labelFlush": false, "tickSize": 2, "labelPadding": 1, "title": "Time (year)", "titleFontSize": 9.5, "titlePadding": 3}},
            "y": {"field": "s", "type": "quantitative", "scale": {"domain": [-0.05, 1.05], "nice": false, "zero": false},
                  "axis": {"values": [0, 0.25, 0.5, 0.75, 1], "format": ".2f", "title": "Overall survival", "titleFontSize": 12.5, "titlePadding": 1, "tickSize": 2}},
            "color": {"field": "g", "type": "nominal",
                      "scale": {"domain": ["Low", "Medium", "High"], "range": ["#F8766D", "#00BA38", "#619CFF"]},
                      "legend": {"title": "Combined EBV DNA", "orient": "none", "legendX": 68, "legendY": -20, "direction": "horizontal", "titleOrient": "left", "symbolType": "M-1,0L1,0M0,-0.5L0,0.5", "symbolSize": 90, "symbolStrokeWidth": 1.2, "columnPadding": 1, "labelOffset": 1}}
          }
        },
        {
          "data": {"name": "cnD"},
          "mark": {"type": "point", "shape": "M-1,0L1,0M0,-1L0,1", "size": 22, "strokeWidth": 1, "filled": false, "opacity": 1},
          "encoding": {
            "x": {"field": "t", "type": "quantitative"},
            "y": {"field": "s", "type": "quantitative"},
            "color": {"field": "g", "type": "nominal"}
          }
        },
        {
          "data": {"values": [{"p": "P"}]},
          "mark": {"type": "text", "align": "left", "fontStyle": "italic", "fontSize": 10.5, "color": "#222"},
          "encoding": {"x": {"datum": 0.3, "type": "quantitative"}, "y": {"datum": 0.2, "type": "quantitative"}, "text": {"field": "p"}}
        },
        {
          "data": {"values": [{"p": "= 0.00075"}]},
          "mark": {"type": "text", "align": "left", "fontSize": 10.5, "color": "#222"},
          "encoding": {"x": {"datum": 0.65, "type": "quantitative"}, "y": {"datum": 0.2, "type": "quantitative"}, "text": {"field": "p"}}
        }
      ]
    },

    {"width": 326, "height": 41, "mark": {"type": "point", "opacity": 0}},
    {"width": 48, "height": 1, "mark": {"type": "point", "opacity": 0}},
    {"width": 326, "height": 1, "mark": {"type": "point", "opacity": 0}},

    {
      "width": 326, "height": 40,
      "data": {"name": "rkC"},
      "title": {"text": "Number at risk", "fontSize": 12, "fontWeight": "normal", "color": "#222", "offset": 3},
      "layer": [
        {
          "mark": {"type": "text", "fontSize": 10, "color": "#333"},
          "encoding": {
            "x": {"field": "t", "type": "quantitative", "scale": {"domain": [-0.65, 13.2], "nice": false, "zero": false}, "axis": null},
            "y": {"field": "g", "type": "nominal", "sort": ["≤ 392", "> 392"], "axis": null},
            "text": {"field": "n", "type": "quantitative"}
          }
        },
        {
          "transform": [{"filter": "datum.t == 0"}],
          "mark": {"type": "rule", "strokeWidth": 2.5, "clip": false},
          "encoding": {
            "x": {"datum": -1.35, "type": "quantitative"},
            "x2": {"datum": -0.85},
            "y": {"field": "g", "type": "nominal", "sort": ["≤ 392", "> 392"]},
            "color": {"field": "g", "type": "nominal", "scale": {"domain": ["≤ 392", "> 392"], "range": ["#F8766D", "#00BFC4"]}, "legend": null}
          }
        }
      ]
    },
    {"width": 48, "height": 1, "mark": {"type": "point", "opacity": 0}},
    {
      "width": 326, "height": 42,
      "data": {"name": "rkD"},
      "title": {"text": "Number at risk", "fontSize": 12, "fontWeight": "normal", "color": "#222", "offset": 3},
      "layer": [
        {
          "mark": {"type": "text", "fontSize": 10, "color": "#333"},
          "encoding": {
            "x": {"field": "t", "type": "quantitative", "scale": {"domain": [-0.65, 13.2], "nice": false, "zero": false}, "axis": null},
            "y": {"field": "g", "type": "nominal", "sort": ["Low", "Medium", "High"], "axis": null},
            "text": {"field": "n", "type": "quantitative"}
          }
        },
        {
          "transform": [{"filter": "datum.t == 0"}],
          "mark": {"type": "rule", "strokeWidth": 2.5, "clip": false},
          "encoding": {
            "x": {"datum": -1.35, "type": "quantitative"},
            "x2": {"datum": -0.85},
            "y": {"field": "g", "type": "nominal", "sort": ["Low", "Medium", "High"]},
            "color": {"field": "g", "type": "nominal", "scale": {"domain": ["Low", "Medium", "High"], "range": ["#F8766D", "#00BA38", "#619CFF"]}, "legend": null}
          }
        }
      ]
    }
  ]
}
